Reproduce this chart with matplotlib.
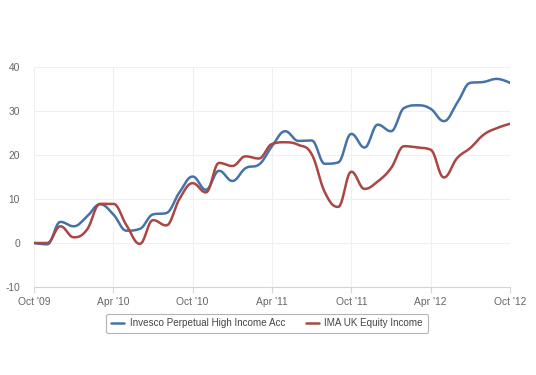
import numpy as np
import matplotlib
matplotlib.use("Agg")
from matplotlib import pyplot as plt

plt.rcParams["font.family"] = ["Liberation Sans", "DejaVu Sans"]
plt.rcParams["axes.unicode_minus"] = False

# monthly values, Oct '09 .. Oct '12
months = np.arange(37)
tick_labels = ["Oct '09", "Apr '10", "Oct '10", "Apr '11", "Oct '11", "Apr '12", "Oct '12"]
invesco = [0, -0.3, 4.8, 3.8, 6.0, 8.8, 6.5, 2.8, 3.2, 6.5, 6.8, 11.5, 15.1,
           12.1, 16.4, 14.1, 17.0, 17.8, 22.0, 25.4, 23.2, 23.3, 18.0, 18.3,
           24.8, 21.7, 26.9, 25.4, 30.7, 31.3, 30.5, 27.7, 31.8, 36.4, 36.6,
           37.3, 36.4]
ima = [0, 0, 3.8, 1.3, 3.0, 8.9, 8.9, 4.0, -0.2, 5.2, 4.0, 10.0, 13.6,
       11.5, 18.2, 17.5, 19.7, 19.2, 22.5, 22.9, 22.3, 20.2, 11.5, 8.2,
       16.2, 12.3, 14.0, 17.0, 22.0, 21.7, 21.2, 14.9, 19.3, 21.6, 24.6,
       26.1, 27.1]
names = ["Invesco Perpetual High Income Acc", "IMA UK Equity Income"]
colors = ["#4572A7", "#AA4643"]


def spline(xs, ys, smoothing=1.5, n=20):
    # highcharts style bezier spline through the points
    xs = np.asarray(xs, float)
    ys = np.asarray(ys, float)
    k = len(xs)
    lc = [(xs[i], ys[i]) for i in range(k)]
    rc = [(xs[i], ys[i]) for i in range(k)]
    d = smoothing + 1
    for i in range(1, k - 1):
        px, py = xs[i], ys[i]
        lx, ly = xs[i - 1], ys[i - 1]
        nx, ny = xs[i + 1], ys[i + 1]
        lcx = (smoothing * px + lx) / d
        lcy = (smoothing * py + ly) / d
        rcx = (smoothing * px + nx) / d
        rcy = (smoothing * py + ny) / d
        corr = (rcy - lcy) * (rcx - px) / (rcx - lcx) + py - rcy
        lcy += corr
        rcy += corr
        if lcy > ly and lcy > py:
            lcy = max(ly, py)
            rcy = 2 * py - lcy
        elif lcy < ly and lcy < py:
            lcy = min(ly, py)
            rcy = 2 * py - lcy
        if rcy > ny and rcy > py:
            rcy = max(ny, py)
            lcy = 2 * py - rcy
        elif rcy < ny and rcy < py:
            rcy = min(ny, py)
            lcy = 2 * py - rcy
        lc[i] = (lcx, lcy)
        rc[i] = (rcx, rcy)
    t = np.linspace(0, 1, n)[:, None]
    out = []
    for i in range(1, k):
        p0 = np.array([xs[i - 1], ys[i - 1]])
        p1 = np.array(rc[i - 1])
        p2 = np.array(lc[i])
        p3 = np.array([xs[i], ys[i]])
        seg = ((1 - t) ** 3) * p0 + 3 * ((1 - t) ** 2) * t * p1 + 3 * (1 - t) * t ** 2 * p2 + t ** 3 * p3
        out.append(seg if i == 1 else seg[1:])
    pts = np.vstack(out)
    return pts[:, 0], pts[:, 1]


fig = plt.figure(figsize=(5.36, 3.75), dpi=100)
ax = fig.add_axes([34 / 536, 1 - 287 / 375, 476 / 536, 220 / 375])

for vals, name, c in zip([invesco, ima], names, colors):
    sx, sy = spline(months, vals)
    ax.plot(sx, sy, color=c, lw=1.8, label=name, solid_capstyle="round")

ax.set_xlim(0, 36)
ax.set_ylim(-10, 40)
ax.set_xticks(np.arange(0, 37, 6))
ax.set_xticklabels(tick_labels)
ax.set_yticks([-10, 0, 10, 20, 30, 40])
ax.grid(True, color="#efefef", lw=0.8)
ax.set_axisbelow(True)
for s in ["top", "right", "left"]:
    ax.spines[s].set_visible(False)
ax.spines["bottom"].set_color("#d0d6dc")
ax.tick_params(axis="x", colors="#d0d6dc", length=4, labelcolor="#666666", labelsize=7.4, pad=3)
ax.tick_params(axis="y", length=0, labelcolor="#666666", labelsize=7.4, pad=10)

leg = fig.legend(loc="center", bbox_to_anchor=(267 / 536, 1 - 323.5 / 375), ncol=2,
                 frameon=True, fontsize=7.1, handlelength=1.3, columnspacing=2.1,
                 fancybox=True, edgecolor="#a0a0a0", borderpad=0.5, handletextpad=0.6)
for t in leg.get_texts():
    t.set_color("#444444")
leg.get_frame().set_linewidth(0.8)

fig.savefig("out.png", dpi=100)
